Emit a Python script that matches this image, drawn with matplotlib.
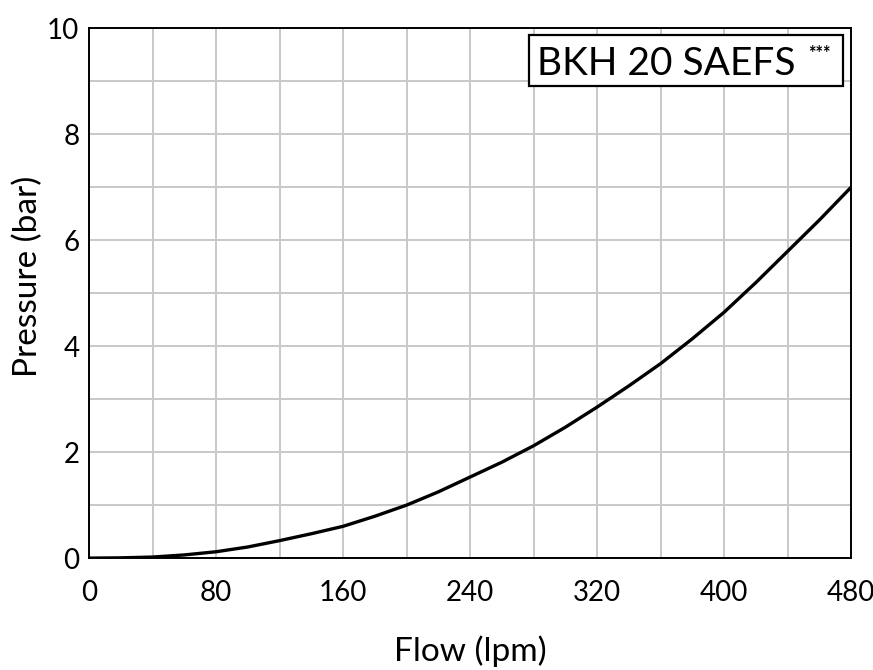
import matplotlib
matplotlib.use('Agg')
import matplotlib.pyplot as plt
from matplotlib.patches import Rectangle

# flow (lpm) vs pressure drop (bar)
flow = [0, 20, 40, 60, 80, 100, 120, 140, 160, 180, 200, 220, 240,
        260, 280, 300, 320, 340, 360, 380, 400, 420, 440, 460, 480]
pressure = [0.0, 0.005, 0.02, 0.06, 0.12, 0.21, 0.33, 0.46, 0.60, 0.79, 1.0, 1.25, 1.53,
            1.81, 2.12, 2.47, 2.85, 3.25, 3.67, 4.14, 4.64, 5.2, 5.79, 6.38, 7.0]

x_ticks = [0, 80, 160, 240, 320, 400, 480]
y_ticks = [0, 2, 4, 6, 8, 10]
model = 'BKH 20 SAEFS'

plt.rcParams['font.family'] = ['Lato', 'DejaVu Sans']
plt.rcParams['font.weight'] = 'normal'
plt.rcParams['axes.labelweight'] = 'normal'

fig = plt.figure(figsize=(8.73, 6.70), dpi=100)
ax = fig.add_axes([0.102, 0.167, 0.873, 0.791])

ax.plot(flow, pressure, color='black', lw=2.4, solid_capstyle='round',
        solid_joinstyle='round', zorder=3)

ax.set_xlim(0, 480)
ax.set_ylim(0, 10)
ax.set_xticks(x_ticks)
ax.set_yticks(y_ticks)
ax.set_xticks(range(0, 481, 40), minor=True)
ax.set_yticks(range(0, 11, 1), minor=True)
ax.grid(which='both', color='#c8c8c8', lw=1.4)
ax.set_axisbelow(True)
ax.tick_params(which='both', length=0)
ax.tick_params(axis='x', pad=16, labelsize=20)
ax.tick_params(axis='y', pad=7, labelsize=20)
for s in ax.spines.values():
    s.set_linewidth(1.4)
    s.set_color('black')

ax.set_xlabel('Flow (lpm)', fontsize=24, labelpad=21, fontweight='normal')
ax.set_ylabel('Pressure (bar)', fontsize=24, fontweight='normal')
ax.yaxis.set_label_coords(-0.060, 0.532)

# model name box
ax.add_patch(Rectangle((0.577, 0.891), 0.412, 0.096, transform=ax.transAxes,
                       facecolor='white', edgecolor='black', lw=1.6, zorder=5))
ax.text(0.588, 0.911, model, transform=ax.transAxes, fontsize=28,
        ha='left', va='baseline', zorder=6)
ax.text(0.958, 0.952, '***', transform=ax.transAxes, fontsize=13,
        fontweight='bold', ha='center', va='center', zorder=6)

fig.savefig('out.png', dpi=100)
